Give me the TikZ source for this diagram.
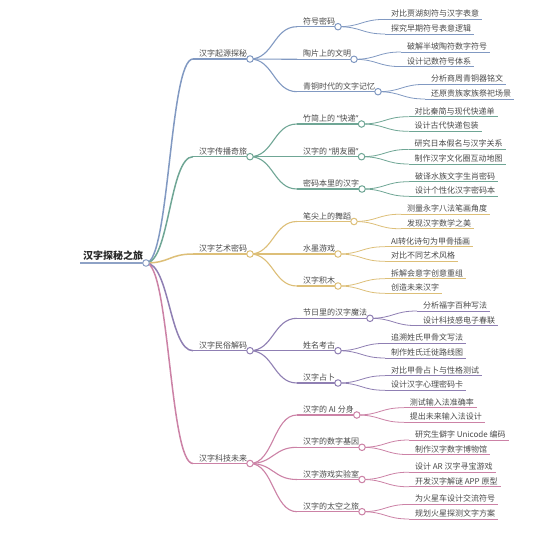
\documentclass[tikz,border=0pt]{standalone}
\usepackage{fontspec}
\setmainfont{Noto Sans CJK SC}
\newfontfamily\qf{Noto Sans}
\usetikzlibrary{calc}
\pgfdeclarelayer{fg}
\pgfsetlayers{main,fg}
\definecolor{colr}{HTML}{8EA2C6}
\definecolor{col1}{HTML}{8199C2}
\definecolor{col2}{HTML}{6FA695}
\definecolor{col3}{HTML}{DDBF78}
\definecolor{col4}{HTML}{8F7FB3}
\definecolor{col5}{HTML}{CC82A6}
\definecolor{txtc}{HTML}{4A4A4A}
\newcommand{\mmnode}[5]{%
  \coordinate (#1Y) at (0,#3);
  \path (#2R) ++(47,0) coordinate (#1X);
  \coordinate (#1L) at (#1X |- #1Y);
  \node[txt,anchor=base west] (#1) at ([xshift=3pt,yshift=2.5pt]#1L) {#5};
  \coordinate (#1R) at (#1.east |- #1L);
  \draw[#4] (#1L) -- (#1R);
  \draw[#4] let \p1=(#2R), \p2=(#1L) in
    (#2R) .. controls ({0.5*\x1+0.5*\x2},\y1) and ({0.5*\x1+0.5*\x2},\y2) .. (#1L);
}
\newcommand{\dotat}[2]{%
  \begin{pgfonlayer}{fg}\node[#2,dot] (#1C) at (#1R) {};\end{pgfonlayer}}
\begin{document}
\begin{tikzpicture}[x=1pt,y=-1pt,
  txt/.style={font=\fontsize{8}{9}\selectfont, text=txtc, inner xsep=3pt, inner ysep=0pt, outer sep=0pt},
  roottxt/.style={font=\fontsize{10}{12}\selectfont\bfseries, text=black!85, inner xsep=3pt, inner ysep=0pt, outer sep=0pt},
  dot/.style={circle, fill=white, minimum size=6.5pt, inner sep=0pt, line width=1pt},
  br0/.style={draw=colr, line width=1.8pt},
  br1/.style={draw=col1}, br2/.style={draw=col2}, br3/.style={draw=col3},
  br4/.style={draw=col4}, br5/.style={draw=col5},
  w1/.style={line width=1.5pt}, w2/.style={line width=1.1pt}, w3/.style={line width=0.8pt}]
\useasboundingbox (0,0) rectangle (557,543);
\fill[white] (0,0) rectangle (557,543);
% root
\coordinate (rootL) at (80,263);
\node[roottxt, anchor=base west] (root) at ([yshift=3.5pt]rootL) {汉字探秘之旅};
\coordinate (rootR) at (root.east |- rootL);
\draw[br0] (rootL) -- (rootR);
\dotat{root}{draw=colr}
% branch 1
\mmnode{a}{root}{59}{br1,w1}{汉字起源探秘}\dotat{a}{br1}
\mmnode{a1}{a}{26.7}{br1,w2}{符号密码}\dotat{a1}{br1}
\mmnode{a11}{a1}{19.4}{br1,w3}{对比贾湖刻符与汉字表意}
\mmnode{a12}{a1}{34.0}{br1,w3}{探究早期符号表意逻辑}
\mmnode{a2}{a}{59.3}{br1,w2}{陶片上的文明}\dotat{a2}{br1}
\mmnode{a21}{a2}{52.0}{br1,w3}{破解半坡陶符数字符号}
\mmnode{a22}{a2}{66.6}{br1,w3}{设计记数符号体系}
\mmnode{a3}{a}{91.7}{br1,w2}{青铜时代的文字记忆}\dotat{a3}{br1}
\mmnode{a31}{a3}{84.4}{br1,w3}{分析商周青铜器铭文}
\mmnode{a32}{a3}{99.0}{br1,w3}{还原贵族家族祭祀场景}
% branch 2
\mmnode{b}{root}{156.7}{br2,w1}{汉字传播奇旅}\dotat{b}{br2}
\mmnode{b1}{b}{124}{br2,w2}{竹简上的 {\qf “}快递{\qf ”}}\dotat{b1}{br2}
\mmnode{b11}{b1}{116.7}{br2,w3}{对比秦简与现代快递单}
\mmnode{b12}{b1}{131.3}{br2,w3}{设计古代快递包装}
\mmnode{b2}{b}{156.7}{br2,w2}{汉字的 {\qf “}朋友圈{\qf ”}}\dotat{b2}{br2}
\mmnode{b21}{b2}{149.4}{br2,w3}{研究日本假名与汉字关系}
\mmnode{b22}{b2}{164.0}{br2,w3}{制作汉字文化圈互动地图}
\mmnode{b3}{b}{189}{br2,w2}{密码本里的汉字}\dotat{b3}{br2}
\mmnode{b31}{b3}{181.7}{br2,w3}{破译水族文字生肖密码}
\mmnode{b32}{b3}{196.3}{br2,w3}{设计个性化汉字密码本}
% branch 3
\mmnode{c}{root}{254}{br3,w1}{汉字艺术密码}\dotat{c}{br3}
\mmnode{c1}{c}{221.5}{br3,w2}{笔尖上的舞蹈}\dotat{c1}{br3}
\mmnode{c11}{c1}{214.2}{br3,w3}{测量永字八法笔画角度}
\mmnode{c12}{c1}{228.8}{br3,w3}{发现汉字数学之美}
\mmnode{c2}{c}{254}{br3,w2}{水墨游戏}\dotat{c2}{br3}
\mmnode{c21}{c2}{246.7}{br3,w3}{AI转化诗句为甲骨插画}
\mmnode{c22}{c2}{261.3}{br3,w3}{对比不同艺术风格}
\mmnode{c3}{c}{286}{br3,w2}{汉字积木}\dotat{c3}{br3}
\mmnode{c31}{c3}{278.7}{br3,w3}{拆解会意字创意重组}
\mmnode{c32}{c3}{293.3}{br3,w3}{创造未来汉字}
% branch 4
\mmnode{d}{root}{350.7}{br4,w1}{汉字民俗解码}\dotat{d}{br4}
\mmnode{d1}{d}{318.3}{br4,w2}{节日里的汉字魔法}\dotat{d1}{br4}
\mmnode{d11}{d1}{311.0}{br4,w3}{分析福字百种写法}
\mmnode{d12}{d1}{325.6}{br4,w3}{设计科技感电子春联}
\mmnode{d2}{d}{350.7}{br4,w2}{姓名考古}\dotat{d2}{br4}
\mmnode{d21}{d2}{343.4}{br4,w3}{追溯姓氏甲骨文写法}
\mmnode{d22}{d2}{358.0}{br4,w3}{制作姓氏迁徙路线图}
\mmnode{d3}{d}{383}{br4,w2}{汉字占卜}\dotat{d3}{br4}
\mmnode{d31}{d3}{375.7}{br4,w3}{对比甲骨占卜与性格测试}
\mmnode{d32}{d3}{390.3}{br4,w3}{设计汉字心理密码卡}
% branch 5
\mmnode{e}{root}{463.5}{br5,w1}{汉字科技未来}\dotat{e}{br5}
\mmnode{e1}{e}{415}{br5,w2}{汉字的 AI 分身}\dotat{e1}{br5}
\mmnode{e11}{e1}{407.7}{br5,w3}{测试输入法准确率}
\mmnode{e12}{e1}{422.3}{br5,w3}{提出未来输入法设计}
\mmnode{e2}{e}{447.3}{br5,w2}{汉字的数字基因}\dotat{e2}{br5}
\mmnode{e21}{e2}{440.0}{br5,w3}{研究生僻字 Unicode 编码}
\mmnode{e22}{e2}{454.6}{br5,w3}{制作汉字数字博物馆}
\mmnode{e3}{e}{479.5}{br5,w2}{汉字游戏实验室}\dotat{e3}{br5}
\mmnode{e31}{e3}{472.2}{br5,w3}{设计 AR 汉字寻宝游戏}
\mmnode{e32}{e3}{486.8}{br5,w3}{开发汉字解谜 APP 原型}
\mmnode{e4}{e}{511.7}{br5,w2}{汉字的太空之旅}\dotat{e4}{br5}
\mmnode{e41}{e4}{504.4}{br5,w3}{为火星车设计交流符号}
\mmnode{e42}{e4}{519.0}{br5,w3}{规划火星探测文字方案}
\end{tikzpicture}
\end{document}
